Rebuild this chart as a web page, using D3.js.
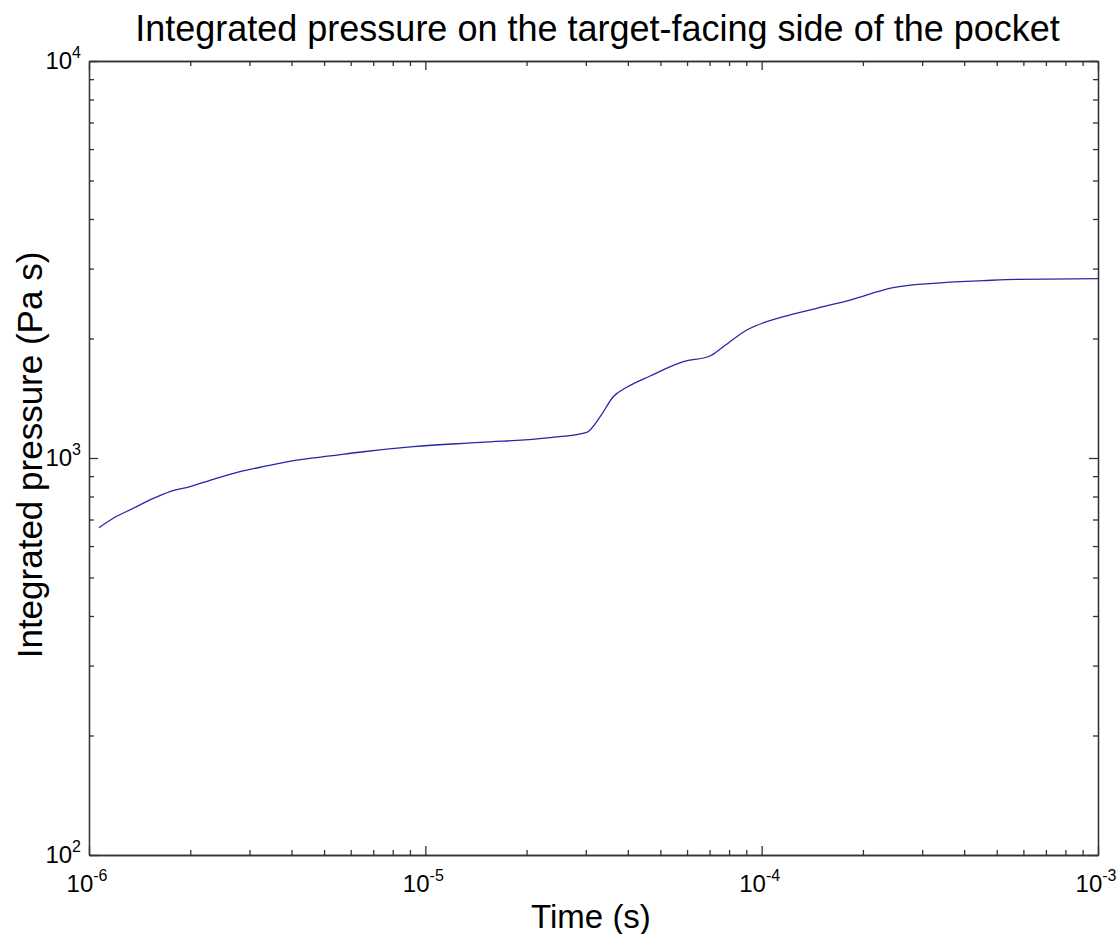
<!DOCTYPE html>
<html>
<head>
<meta charset="utf-8">
<script src="https://cdn.jsdelivr.net/npm/d3@7"></script>
<style>
  body { margin: 0; background: #fff; }
  text { font-family: "Liberation Sans", Arial, sans-serif; fill: #000; }
</style>
</head>
<body>
<div id="chart"></div>
<script>
// data
var times = [1.07e-6, 1.18e-6, 1.354e-6, 1.518e-6, 1.741e-6, 1.997e-6, 2.342e-6, 2.81e-6,
  3.376e-6, 4.145e-6, 5.21e-6, 6.54e-6, 9.21e-6, 1.454e-5, 2.35e-5, 3.02e-5, 3.31e-5,
  3.62e-5, 3.97e-5, 4.66e-5, 5.85e-5, 7.02e-5, 7.69e-5, 9.03e-5, 1.16e-4, 1.458e-4,
  1.832e-4, 2.46e-4, 3.24e-4, 4.56e-4, 5.73e-4, 1e-3];
var pressure = [667, 705, 747, 784, 823, 847, 884, 924,
  955, 988, 1012, 1037, 1068, 1095, 1125, 1161, 1271,
  1427, 1507, 1609, 1748, 1807, 1907, 2101, 2269, 2383,
  2500, 2685, 2754, 2797, 2819, 2829];
var xDecades = [-6, -5, -4, -3];
var yDecades = [2, 3, 4];

var titleText = 'Integrated pressure on the target-facing side of the pocket';
var xLabel = 'Time (s)';
var yLabel = 'Integrated pressure (Pa s)';

//Width and height
var width = 1118;
var height = 934;
var mLeft = 89, mRight = 1098, mTop = 61, mBottom = 855;

var xScale = d3.scaleLog().domain([1e-6, 1e-3]).range([mLeft, mRight]);
var yScale = d3.scaleLog().domain([1e2, 1e4]).range([mBottom, mTop]);

var svg = d3.select('#chart')
  .append('svg')
  .attr('width', width)
  .attr('height', height);

// minor tick values
function minors(decs) {
  var out = [];
  for (var i = 0; i < decs.length - 1; i++) {
    for (var k = 2; k <= 9; k++) out.push(k * Math.pow(10, decs[i]));
  }
  return out;
}
var xMajor = xDecades.map(function (d) { return Math.pow(10, d); });
var yMajor = yDecades.map(function (d) { return Math.pow(10, d); });

function drawAxis(axisFn, scale, vals, size, tx, ty) {
  svg.append('g')
    .attr('transform', 'translate(' + tx + ',' + ty + ')')
    .call(axisFn(scale).tickValues(vals).tickSizeInner(size).tickSizeOuter(0).tickFormat(''))
    .call(function (g) {
      g.select('.domain').attr('stroke', '#333').attr('stroke-width', 1.3);
      g.selectAll('.tick line').attr('stroke', '#333').attr('stroke-width', 1.3);
    });
}

// ticks point inward on all four sides
drawAxis(d3.axisBottom, xScale, xMajor, -9, 0, mBottom);
drawAxis(d3.axisBottom, xScale, minors(xDecades), -5, 0, mBottom);
drawAxis(d3.axisTop, xScale, xMajor, -9, 0, mTop);
drawAxis(d3.axisTop, xScale, minors(xDecades), -5, 0, mTop);
drawAxis(d3.axisLeft, yScale, yMajor, -9, mLeft, 0);
drawAxis(d3.axisLeft, yScale, minors(yDecades), -5, mLeft, 0);
drawAxis(d3.axisRight, yScale, yMajor, -9, mRight, 0);
drawAxis(d3.axisRight, yScale, minors(yDecades), -5, mRight, 0);

// tick labels with superscript exponents
svg.selectAll('.xlab')
  .data(xDecades)
  .enter()
  .append('text')
  .attr('class', 'xlab')
  .attr('x', function (d) { return xScale(Math.pow(10, d)) - 2; })
  .attr('y', mBottom + 37)
  .attr('text-anchor', 'middle')
  .style('font-size', '24px')
  .each(function (d) {
    var t = d3.select(this);
    t.append('tspan').text('10');
    t.append('tspan').attr('dy', -11).style('font-size', '16px').text(d);
  });

svg.selectAll('.ylab')
  .data(yDecades)
  .enter()
  .append('text')
  .attr('class', 'ylab')
  .attr('x', mLeft - 8)
  .attr('y', function (d) { return yScale(Math.pow(10, d)) + 8; })
  .attr('text-anchor', 'end')
  .style('font-size', '24px')
  .each(function (d) {
    var t = d3.select(this);
    t.append('tspan').text('10');
    t.append('tspan').attr('dy', -11).style('font-size', '16px').text(d);
  });

// curve
var line = d3.line()
  .x(function (d, i) { return xScale(times[i]); })
  .y(function (d) { return yScale(d); })
  .curve(d3.curveMonotoneX);

svg.append('path')
  .datum(pressure)
  .attr('d', line)
  .attr('fill', 'none')
  .attr('stroke', '#2626a8')
  .attr('stroke-width', 1.3);

// title and axis labels
svg.append('text')
  .attr('x', (mLeft + mRight) / 2 + 4)
  .attr('y', 41)
  .attr('text-anchor', 'middle')
  .style('font-size', '36px')
  .text(titleText);

svg.append('text')
  .attr('x', 591)
  .attr('y', 928)
  .attr('text-anchor', 'middle')
  .style('font-size', '33px')
  .text(xLabel);

svg.append('text')
  .attr('transform', 'translate(42,' + 455 + ') rotate(-90)')
  .attr('text-anchor', 'middle')
  .style('font-size', '35px')
  .text(yLabel);
</script>
</body>
</html>
